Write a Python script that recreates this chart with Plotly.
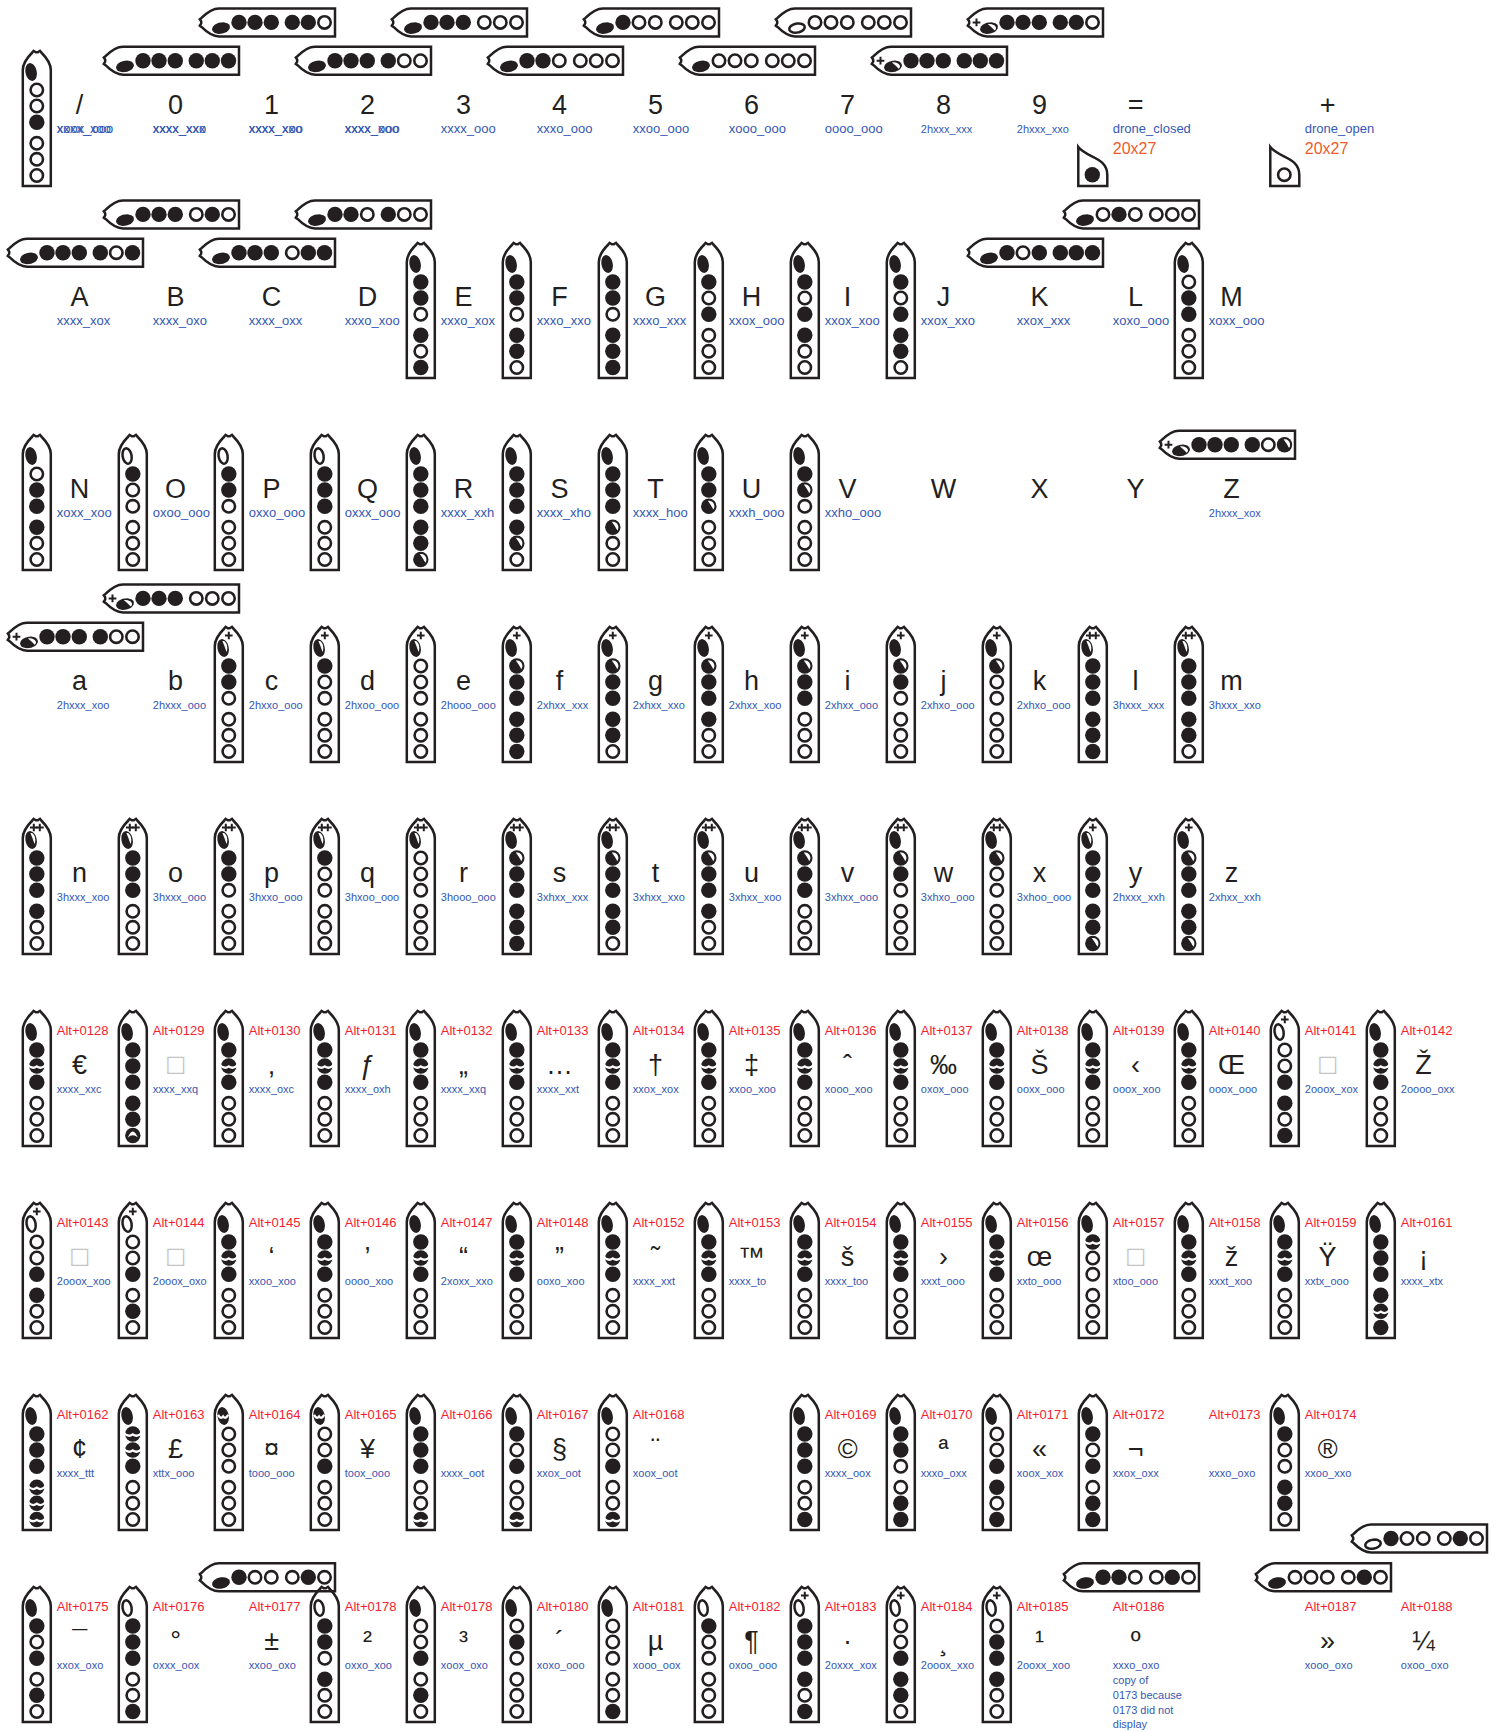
import numpy as np
import plotly.graph_objects as go

# Tin whistle font chart: one list per row, one entry per grid column (None = nothing there)
BOX = "\u25a1"

CHARS_0 = ["/", "0", "1", "2", "3", "4", "5", "6", "7", "8", "9", "=", None, "+"]
NOTES_0 = ["xoox_ooo", "xxxx_xxx", "xxxx_xxo", "xxxx_xoo", "xxxx_ooo", "xxxo_ooo", "xxoo_ooo", "xooo_ooo",
           "oooo_ooo", "2hxxx_xxx", "2hxxx_xxo", "drone_closed", None, "drone_open"]
FINGER_0 = ["xoox_ooo", "xxxx_xxx", "xxxx_xxo", "xxxx_xoo", "xxxx_ooo", "xxxo_ooo", "xxoo_ooo", "xooo_ooo",
            "oooo_ooo", "+hxxx_xxx", "+hxxx_xxo", None, None, None]
ORIENT_0 = ["v", "lo", "hi", "lo", "hi", "lo", "hi", "lo", "hi", "lo", "hi", None, None, None]
# the first four labels of the top row were printed twice on top of each other
OVERPRINT_0 = ["xxxx_xoo", "xxxx_xxo", "xxxx_xoo", "xxxx_ooo"]
DRONE_NOTE = ["20x27", None, "20x27"]
DRONE_HOLE = ["x", None, "o"]

CHARS_1 = list("ABCDEFGHIJKLM")
NOTES_1 = ["xxxx_xox", "xxxx_oxo", "xxxx_oxx", "xxxo_xoo", "xxxo_xox", "xxxo_xxo", "xxxo_xxx", "xxox_ooo",
           "xxox_xoo", "xxox_xxo", "xxox_xxx", "xoxo_ooo", "xoxx_ooo"]
FINGER_1 = list(NOTES_1)
ORIENT_1 = ["lo", "hi", "lo", "hi", "v", "v", "v", "v", "v", "v", "lo", "hi", "v"]

CHARS_2 = list("NOPQRSTUVWXYZ")
NOTES_2 = ["xoxx_xoo", "oxoo_ooo", "oxxo_ooo", "oxxx_ooo", "xxxx_xxh", "xxxx_xho", "xxxx_hoo", "xxxh_ooo",
           "xxho_ooo", None, None, None, "2hxxx_xox"]
FINGER_2 = ["xoxx_xoo", "oxoo_ooo", "oxxo_ooo", "oxxx_ooo", "xxxx_xxh", "xxxx_xho", "xxxx_hoo", "xxxh_ooo",
            "xxho_ooo", None, None, None, "+hxxx_xoh"]
ORIENT_2 = ["v"] * 9 + [None, None, None, "lo"]

CHARS_3 = list("abcdefghijklm")
NOTES_3 = ["2hxxx_xoo", "2hxxx_ooo", "2hxxo_ooo", "2hxoo_ooo", "2hooo_ooo", "2xhxx_xxx", "2xhxx_xxo", "2xhxx_xoo",
           "2xhxx_ooo", "2xhxo_ooo", "2xhxo_ooo", "3hxxx_xxx", "3hxxx_xxo"]
FINGER_3 = ["+hxxx_xoo", "+hxxx_ooo", "+hxxo_ooo", "+hxoo_ooo", "+hooo_ooo", "+xhxx_xxx", "+xhxx_xxo", "+xhxx_xoo",
            "+xhxx_ooo", "+xhxo_ooo", "+xhoo_ooo", "#hxxx_xxx", "#hxxx_xxo"]
ORIENT_3 = ["lo", "hi"] + ["v"] * 11

CHARS_4 = list("nopqrstuvwxyz")
NOTES_4 = ["3hxxx_xoo", "3hxxx_ooo", "3hxxo_ooo", "3hxoo_ooo", "3hooo_ooo", "3xhxx_xxx", "3xhxx_xxo", "3xhxx_xoo",
           "3xhxx_ooo", "3xhxo_ooo", "3xhoo_ooo", "2hxxx_xxh", "2xhxx_xxh"]
FINGER_4 = ["#hxxx_xoo", "#hxxx_ooo", "#hxxo_ooo", "#hxoo_ooo", "#hooo_ooo", "#xhxx_xxx", "#xhxx_xxo", "#xhxx_xoo",
            "#xhxx_ooo", "#xhxo_ooo", "#xhoo_ooo", "+hxxx_xxh", "+xhxx_xxh"]
ORIENT_4 = ["v"] * 13

ALT_5 = ["Alt+0128", "Alt+0129", "Alt+0130", "Alt+0131", "Alt+0132", "Alt+0133", "Alt+0134", "Alt+0135",
         "Alt+0136", "Alt+0137", "Alt+0138", "Alt+0139", "Alt+0140", "Alt+0141", "Alt+0142"]
CHARS_5 = ["€", BOX, "‚", "ƒ", "„", "…", "†", "‡", "ˆ", "‰", "Š", "‹", "Œ", BOX, "Ž"]
NOTES_5 = ["xxxx_xxc", "xxxx_xxq", "xxxx_oxc", "xxxx_oxh", "xxxx_xxq", "xxxx_xxt", "xxox_xox", "xxoo_xoo",
           "xooo_xoo", "oxox_ooo", "ooxx_ooo", "ooox_xoo", "ooox_ooo", "2ooox_xox", "2oooo_oxx"]
FINGER_5 = ["xxtx_ooo", "xxxx_xxq"] + ["xxtx_ooo"] * 11 + ["+ooox_xox", "xxtx_ooo"]
ORIENT_5 = ["v"] * 15

ALT_6 = ["Alt+0143", "Alt+0144", "Alt+0145", "Alt+0146", "Alt+0147", "Alt+0148", "Alt+0152", "Alt+0153",
         "Alt+0154", "Alt+0155", "Alt+0156", "Alt+0157", "Alt+0158", "Alt+0159", "Alt+0161"]
CHARS_6 = [BOX, BOX, "‘", "’", "“", "”", "˜", "™", "š", "›", "œ", BOX, "ž", "Ÿ", "¡"]
NOTES_6 = ["2ooox_xoo", "2ooox_oxo", "xxoo_xoo", "oooo_xoo", "2xoxx_xxo", "ooxo_xoo", "xxxx_xxt", "xxxx_to",
           "xxxx_too", "xxxt_ooo", "xxto_ooo", "xtoo_ooo", "xxxt_xoo", "xxtx_ooo", "xxxx_xtx"]
FINGER_6 = ["+ooox_xoo", "+ooox_oxo"] + ["xxtx_ooo"] * 9 + ["xtoo_ooo", "xxtx_ooo", "xxtx_ooo", "xxxx_xtx"]
ORIENT_6 = ["v"] * 15

ALT_7 = ["Alt+0162", "Alt+0163", "Alt+0164", "Alt+0165", "Alt+0166", "Alt+0167", "Alt+0168", None,
         "Alt+0169", "Alt+0170", "Alt+0171", "Alt+0172", "Alt+0173", "Alt+0174"]
CHARS_7 = ["¢", "£", "¤", "¥", None, "§", "¨", None, "©", "ª", "«", "¬", None, "®"]
NOTES_7 = ["xxxx_ttt", "xttx_ooo", "tooo_ooo", "toox_ooo", "xxxx_oot", "xxox_oot", "xoox_oot", None,
           "xxxx_oox", "xxxo_oxx", "xoox_xox", "xxox_oxx", "xxxo_oxo", "xxoo_xxo"]
FINGER_7 = ["xxxx_ttt", "xttx_ooo", "tooo_ooo", "toox_ooo", "xxxx_oot", "xxox_oot", "xoox_oot", None,
            "xxxx_oox", "xxxo_oxx", "xoox_xox", "xxox_oxx", None, "xxoo_xxo"]
ORIENT_7 = ["v"] * 7 + [None] + ["v"] * 4 + [None, "v"]

ALT_8 = ["Alt+0175", "Alt+0176", "Alt+0177", "Alt+0178", "Alt+0178", "Alt+0180", "Alt+0181", "Alt+0182",
         "Alt+0183", "Alt+0184", "Alt+0185", "Alt+0186", None, "Alt+0187", "Alt+0188"]
CHARS_8 = ["¯", "°", "±", "²", "³", "´", "µ", "¶", "·", "¸", "¹", "º", None, "»", "¼"]
NOTES_8 = ["xxox_oxo", "oxxx_oox", "xxoo_oxo", "oxxo_xoo", "xoox_oxo", "xoxo_ooo", "xooo_oox", "oxoo_ooo",
           "2oxxx_xox", "2ooox_xxo", "2ooxx_xoo", "xxxo_oxo", None, "xooo_oxo", "oxoo_oxo"]
FINGER_8 = ["xxox_oxo", "oxxx_oox", "xxoo_oxo", "oxxo_xoo", "xoox_oxo", "xoxo_ooo", "xooo_oox", "oxoo_ooo",
            "+oxxx_xox", "+ooox_xxo", "+ooxx_xoo", "xxxo_oxo", None, "xooo_oxo", "oxoo_oxo"]
ORIENT_8 = ["v", "v", "lo8", "v", "v", "v", "v", "v", "v", "v", "v", "lo8", None, "lo8", "hi8"]
COPY_NOTE_8 = ["copy of", "0173 because", "0173 did not", "display"]

ROWS = [
    (None, CHARS_0, NOTES_0, FINGER_0, ORIENT_0),
    (None, CHARS_1, NOTES_1, FINGER_1, ORIENT_1),
    (None, CHARS_2, NOTES_2, FINGER_2, ORIENT_2),
    (None, CHARS_3, NOTES_3, FINGER_3, ORIENT_3),
    (None, CHARS_4, NOTES_4, FINGER_4, ORIENT_4),
    (ALT_5, CHARS_5, NOTES_5, FINGER_5, ORIENT_5),
    (ALT_6, CHARS_6, NOTES_6, FINGER_6, ORIENT_6),
    (ALT_7, CHARS_7, NOTES_7, FINGER_7, ORIENT_7),
    (ALT_8, CHARS_8, NOTES_8, FINGER_8, ORIENT_8),
]

# grid, in page pixels
PITCH_X = 96.0
PITCH_Y = 192
FIRST_TOP = 50
BODY_X = 36.8
TEXT_X = 56.8
CHAR_X = 79.6
HORIZ_X = 7
LEVELS = {"lo": 10.7, "hi": -27.6, "lo8": -8.7, "hi8": -47.5}
HOLE_U = [40, 56, 72.3, 93.3, 109.3, 125.5]

INK = "#231f20"
BLUE = "#3558b4"
RED = "#f5222f"
ORANGE = "#f15a29"
FONT = "Liberation Sans"

shapes = []
closed_x, closed_y, open_x, open_y, mark_x, mark_y = [], [], [], [], [], []


def place(orient, col, row, u, v):
    top = FIRST_TOP + PITCH_Y * row
    if orient == "v":
        return BODY_X + PITCH_X * col - v, top + u
    return HORIZ_X + PITCH_X * col + u, top + LEVELS[orient] + v


def outline(orient, col, row):
    steps = [("M", [(136, 14)]), ("L", [(20, 14)]), ("C", [(13, 14), (6, 8), (2.5, 4.5)]),
             ("L", [(0.8, 3.2)]), ("L", [(2.2, 1)]), ("L", [(2.2, -1)]), ("L", [(0.8, -3.2)]),
             ("L", [(2.5, -4.5)]), ("C", [(6, -8), (13, -14), (20, -14)]), ("L", [(136, -14)])]
    path = ""
    for cmd, pts in steps:
        path += cmd + " ".join("%.2f,%.2f" % place(orient, col, row, u, v) for u, v in pts) + " "
    shapes.append(dict(type="path", path=path + "Z", line=dict(color=INK, width=2.5), layer="below"))


def white_path(path, fill=True, width=2.3):
    shapes.append(dict(type="path", path=path, fillcolor="white" if fill else "rgba(0,0,0,0)",
                       line=dict(color="white", width=0 if fill else width), layer="above"))


def slash(cx, cy, rx, ry):
    # half covered hole: white sliver upper right
    angles = np.radians(np.linspace(100, -35, 9))
    pts = ["%.2f,%.2f" % (cx + rx * np.cos(a), cy - ry * np.sin(a)) for a in angles]
    ctrl = "%.2f,%.2f" % (cx + 0.4 * rx, cy - 0.2 * ry)
    white_path("M" + " L".join(pts) + " Q" + ctrl + " " + pts[0] + " Z")


def wave(cx, cy, rx):
    k = rx / 7.5
    pts = [(-9, -1.2), (-4.5, 3.8), (0, 0.4), (4.5, 3.8), (9, -1.2)]
    p = ["%.2f,%.2f" % (cx + k * x, cy + y) for x, y in pts]
    white_path("M%s Q%s %s Q%s %s" % (p[0], p[1], p[2], p[3], p[4]), fill=False)


def arch(cx, cy):
    white_path("M%.2f,%.2f Q%.2f,%.2f %.2f,%.2f Q%.2f,%.2f %.2f,%.2f Z" % (
        cx - 5, cy + 2, cx, cy - 10, cx + 5, cy + 2, cx, cy - 2.5, cx - 5, cy + 2))


def thumb(orient, col, row, state):
    uc, vc = 22, 5.7
    shrink = 1.2 if state == "o" else 0
    pts = []
    for t in np.linspace(0, 2 * np.pi, 24, endpoint=False):
        du = (8.9 - shrink) * np.cos(t)
        dv = (5.7 - shrink) * np.sin(t)
        pts.append("%.2f,%.2f" % place(orient, col, row, uc + du, vc + dv - 0.12 * du))
    shapes.append(dict(type="path", path="M" + " L".join(pts) + " Z",
                       fillcolor="white" if state == "o" else INK,
                       line=dict(color=INK, width=2.5 if state == "o" else 0), layer="above"))
    cx, cy = place(orient, col, row, uc, vc)
    rx, ry = (4.2, 7) if orient == "v" else (7, 4.2)
    if state == "h":
        slash(cx, cy, rx, ry)
    if state == "t":
        wave(cx, cy, rx)


def hole(orient, col, row, u, state):
    x, y = place(orient, col, row, u, 0)
    if state == "o":
        open_x.append(x)
        open_y.append(y)
        return
    closed_x.append(x)
    closed_y.append(y)
    if state == "h":
        slash(x, y, 5.6, 5.6)
    if state == "t":
        wave(x, y, 7.5)
    if state == "q":
        arch(x, y)


def whistle(orient, col, row, code):
    mark = code[0] if code[0] in "+#" else ""
    states = code.replace(mark, "", 1).replace("_", "") if mark else code.replace("_", "")
    outline(orient, col, row)
    thumb(orient, col, row, states[0])
    for u, state in zip(HOLE_U, states[1:]):
        hole(orient, col, row, u, state)
    offsets = {"": [], "+": [0], "#": [-3, 3]}[mark]
    for off in offsets:
        x, y = place(orient, col, row, 9.5, off)
        mark_x.append(x)
        mark_y.append(y)


char_x, char_y, char_t, box_x, box_y = [], [], [], [], []
big_x, big_y, big_t, small_x, small_y, small_t = [], [], [], [], [], []
alt_x, alt_y, alt_t = [], [], []

for row, (alts, chars, notes, fingers, orients) in enumerate(ROWS):
    top = FIRST_TOP + PITCH_Y * row
    for col, ch in enumerate(chars):
        if ch == BOX:
            box_x.append(CHAR_X + PITCH_X * col)
            box_y.append(top + 55)
        elif ch:
            char_x.append(CHAR_X + PITCH_X * col)
            char_y.append(top + 57.6)
            char_t.append(ch)
    for col, note in enumerate(notes):
        if not note:
            continue
        if row < 3 and not note[0].isdigit():
            big_x.append(TEXT_X + PITCH_X * col)
            big_y.append(top + 80)
            big_t.append(note)
        else:
            small_x.append(TEXT_X + PITCH_X * col)
            small_y.append(top + 80.5)
            small_t.append(note)
    for col, alt in enumerate(alts or []):
        if alt:
            alt_x.append(TEXT_X + PITCH_X * col)
            alt_y.append(top + 21.5)
            alt_t.append(alt)
    # horizontal ones first so the vertical tips sit on top of them
    for col, code in enumerate(fingers):
        if code and orients[col] != "v":
            whistle(orients[col], col, row, code)
    for col, code in enumerate(fingers):
        if code and orients[col] == "v":
            whistle("v", col, row, code)

for col, note in enumerate(OVERPRINT_0):
    big_x.append(TEXT_X + PITCH_X * col)
    big_y.append(FIRST_TOP + 80)
    big_t.append(note)

for i, line in enumerate(COPY_NOTE_8):
    small_x.append(TEXT_X + PITCH_X * 11)
    small_y.append(FIRST_TOP + PITCH_Y * 8 + 80.5 + 14.8 * (i + 1))
    small_t.append(line)

# the two drone pieces in the top row
drone_x, drone_y, drone_t = [], [], []
for i, (note, state) in enumerate(zip(DRONE_NOTE, DRONE_HOLE)):
    if not note:
        continue
    col = 11 + i
    cx = BODY_X + PITCH_X * col
    drone_x.append(TEXT_X + PITCH_X * col)
    drone_y.append(FIRST_TOP + 99.5)
    drone_t.append(note)
    shapes.append(dict(
        type="path", layer="below", line=dict(color=INK, width=2.5),
        path="M%.2f,%.2f L%.2f,%.2f C%.2f,%.2f %.2f,%.2f %.2f,%.2f L%.2f,%.2f Z" % (
            cx - 14.5, FIRST_TOP + 136, cx - 14.5, FIRST_TOP + 97,
            cx - 6, FIRST_TOP + 108, cx + 14.5, FIRST_TOP + 107, cx + 14.5, FIRST_TOP + 125,
            cx + 14.5, FIRST_TOP + 136)))
    (closed_x if state == "x" else open_x).append(cx - 0.5)
    (closed_y if state == "x" else open_y).append(FIRST_TOP + 124.7)


def text_trace(x, y, t, size, color, pos, family=FONT):
    return go.Scatter(x=x, y=y, text=t, mode="text", textposition=pos, hoverinfo="skip", showlegend=False,
                      textfont=dict(family=family, size=size, color=color))


fig = go.Figure()
fig.add_trace(go.Scatter(x=closed_x, y=closed_y, mode="markers", hoverinfo="skip", showlegend=False,
                         marker=dict(size=15.4, color=INK, line=dict(width=0))))
fig.add_trace(go.Scatter(x=open_x, y=open_y, mode="markers", hoverinfo="skip", showlegend=False,
                         marker=dict(size=12.4, color="white", line=dict(width=2.6, color=INK))))
fig.add_trace(go.Scatter(x=mark_x, y=mark_y, mode="markers", hoverinfo="skip", showlegend=False,
                         marker=dict(size=5.5, symbol="cross-thin", line=dict(width=2, color=INK))))
fig.add_trace(text_trace(char_x, char_y, char_t, 27, INK, "middle center"))
fig.add_trace(text_trace(box_x, box_y, [BOX] * len(box_x), 22, "#c4c4c4", "middle center", "DejaVu Sans"))
fig.add_trace(text_trace(big_x, big_y, big_t, 13, BLUE, "middle right"))
fig.add_trace(text_trace(small_x, small_y, small_t, 11, BLUE, "middle right"))
fig.add_trace(text_trace(alt_x, alt_y, alt_t, 13, RED, "middle right"))
fig.add_trace(text_trace(drone_x, drone_y, drone_t, 16, ORANGE, "middle right"))

fig.update_layout(
    width=1499, height=1732, margin=dict(l=0, r=0, t=0, b=0),
    paper_bgcolor="white", plot_bgcolor="white", showlegend=False, shapes=shapes,
    xaxis=dict(range=[0, 1499], visible=False, fixedrange=True),
    yaxis=dict(range=[1732, 0], visible=False, fixedrange=True),
)
fig.write_html("out.html", config={"displayModeBar": False},
               post_script="document.body.style.margin='0';document.body.style.overflow='hidden';")
